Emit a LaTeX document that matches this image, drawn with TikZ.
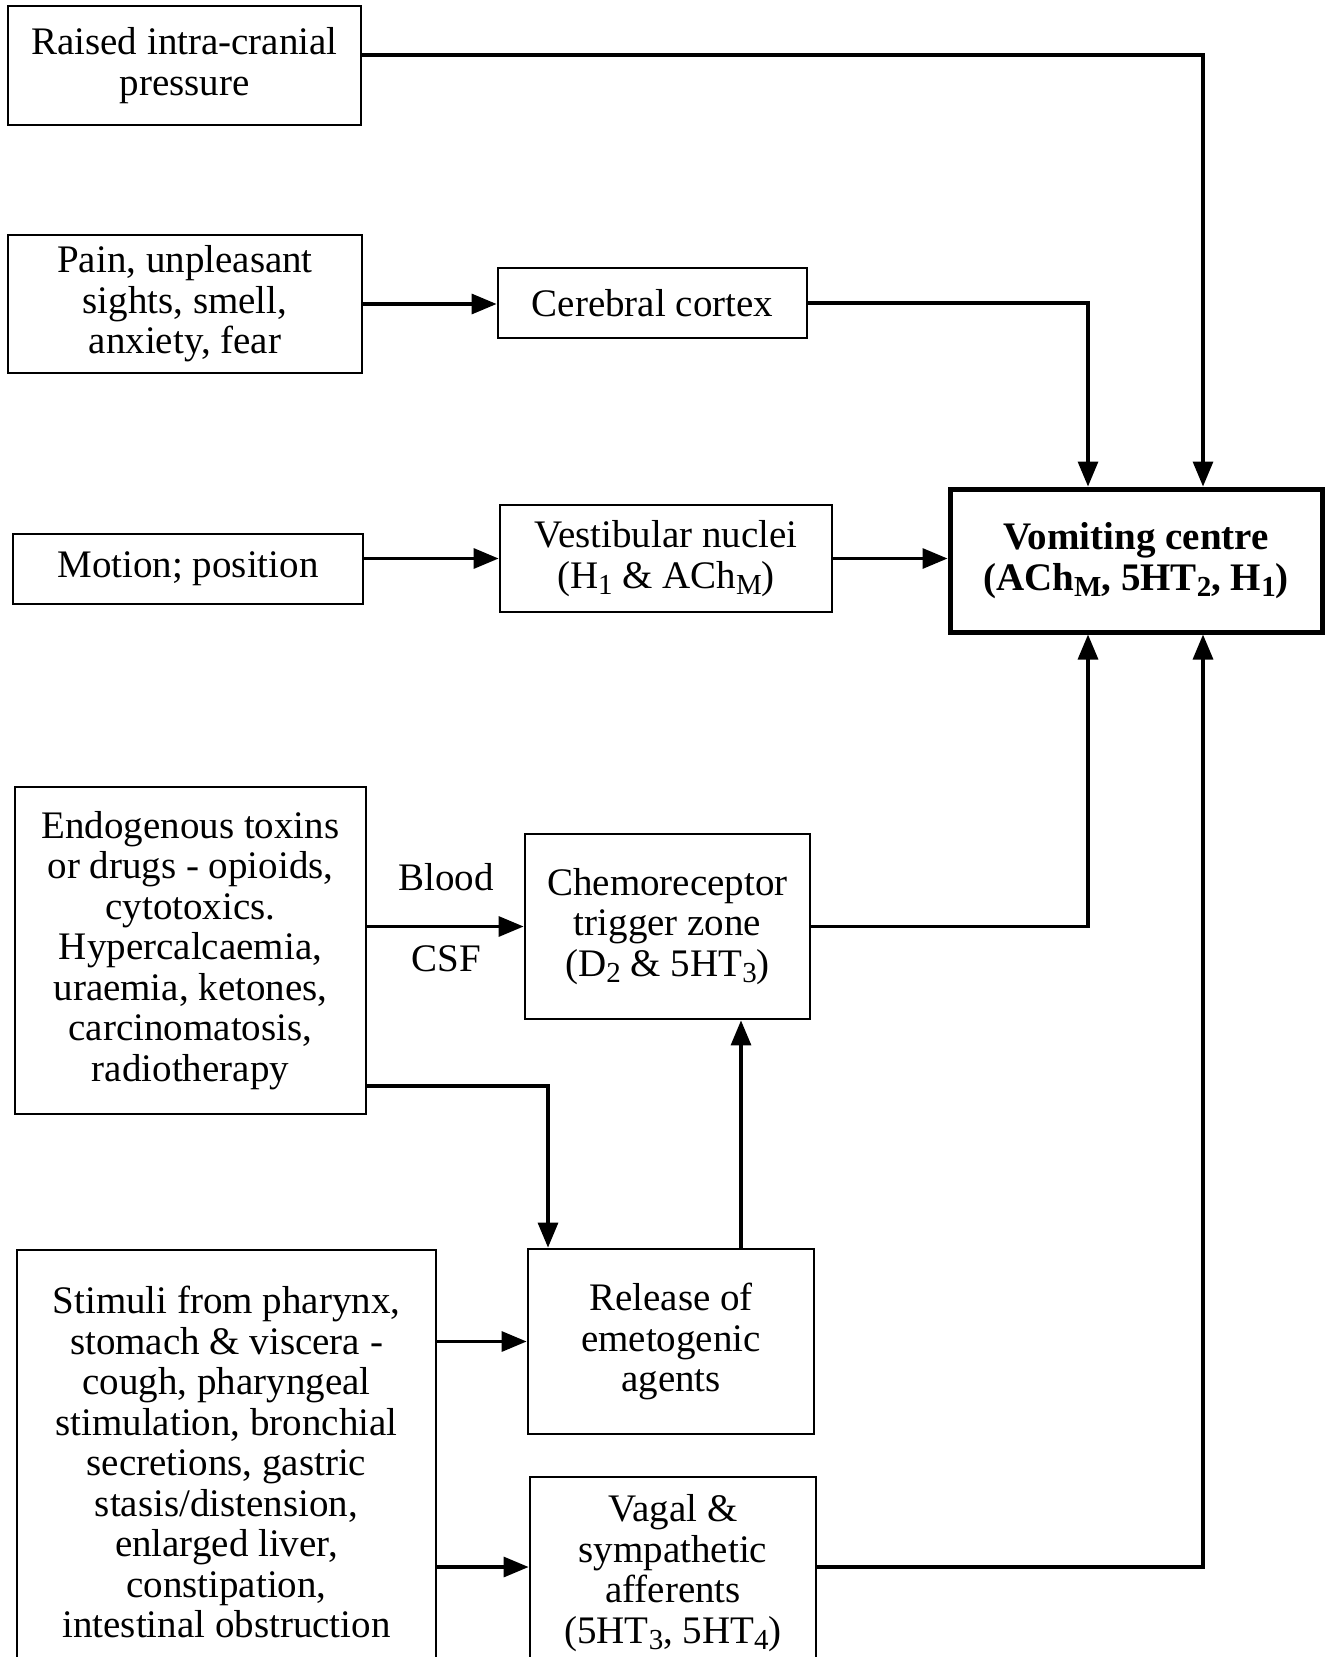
\documentclass[tikz,border=0pt]{standalone}
\usepackage{fontspec}
\setmainfont{Liberation Serif}
\usetikzlibrary{arrows.meta}
\newcommand{\lowr}[1]{\raisebox{-0.35ex}{\fontsize{29}{29}\selectfont #1}}
\begin{document}
\begin{tikzpicture}[x=1pt,y=-1pt,
  box/.style={draw, line width=2.8pt, align=center, inner sep=0pt, font=\fontsize{39}{40.5}\selectfont},
  lbl/.style={inner sep=0pt, font=\fontsize{39}{40.5}\selectfont},
  conn/.style={line width=3.2pt, -{Triangle[length=25pt,width=20pt]}}]
\useasboundingbox[fill=white] (0,0) rectangle (1325,1657);

\node[box, minimum width=353pt, minimum height=119pt] (raised) at (184.5,65.5) {Raised intra-cranial\\pressure};
\node[box, minimum width=354pt, minimum height=138pt] (pain) at (185,304) {Pain, unpleasant\\sights, smell,\\anxiety, fear};
\node[box, minimum width=309pt, minimum height=70pt] (cortex) at (652.5,303) {Cerebral cortex};
\node[box, minimum width=350pt, minimum height=70pt] (motion) at (188,569) {Motion; position};
\node[box, minimum width=332pt, minimum height=107pt] (vest) at (666,558.5) {Vestibular nuclei\\(H\lowr{1} \& ACh\lowr{M})};
\node[box, line width=5pt, minimum width=372pt, minimum height=143pt, font=\fontsize{39}{40.5}\selectfont\bfseries] (vomit) at (1136,560.5) {Vomiting centre\\(ACh\lowr{M}, 5HT\lowr{2}, H\lowr{1})};
\node[box, minimum width=351pt, minimum height=327pt] (endo) at (190.5,950.5) {Endogenous toxins\\or drugs - opioids,\\cytotoxics.\\Hypercalcaemia,\\uraemia, ketones,\\carcinomatosis,\\radiotherapy};
\node[box, minimum width=285pt, minimum height=185pt] (chemo) at (667.5,926.5) {Chemoreceptor\\trigger zone\\(D\lowr{2} \& 5HT\lowr{3})};
\node[box, minimum width=286pt, minimum height=185pt] (release) at (671,1341.5) {Release of\\emetogenic\\agents};
\node[box, minimum width=419pt, minimum height=424pt] (stim) at (226.5,1462) {Stimuli from pharynx,\\stomach \& viscera -\\cough, pharyngeal\\stimulation, bronchial\\secretions, gastric\\stasis/distension,\\enlarged liver,\\constipation,\\intestinal obstruction};
\node[box, minimum width=286pt, minimum height=192pt] (vagal) at (673,1573) {Vagal \&\\sympathetic\\afferents\\(5HT\lowr{3}, 5HT\lowr{4})};

\node[lbl] (blood) at (446,877) {Blood};
\node[lbl] (csf) at (446,959) {CSF};

\draw[conn] ([yshift=10.5pt]raised.east) -| ([xshift=67pt]vomit.north);
\draw[conn] (pain.east) -- (pain.east -| cortex.west);
\draw[conn] (cortex.east) -| ([xshift=-48pt]vomit.north);
\draw[conn] (vest.west -| motion.east) -- (vest.west);
\draw[conn] (vest.east) -- (vest.east -| vomit.west);
\draw[conn] (chemo.east) -| ([xshift=-48pt]vomit.south);
\draw[conn] (chemo.west -| endo.east) -- (chemo.west);
\draw[conn] ([yshift=-135.5pt]endo.east) -| ([xshift=-123pt]release.north);
\draw[conn] ([xshift=70pt]release.north) -- ([xshift=70pt]release.north |- chemo.south);
\draw[conn] (release.west -| stim.east) -- (release.west);
\draw[conn] ([yshift=6pt]vagal.west -| stim.east) -- ([yshift=6pt]vagal.west);
\draw[conn] ([yshift=6pt]vagal.east) -| ([xshift=67pt]vomit.south);
\end{tikzpicture}
\end{document}
